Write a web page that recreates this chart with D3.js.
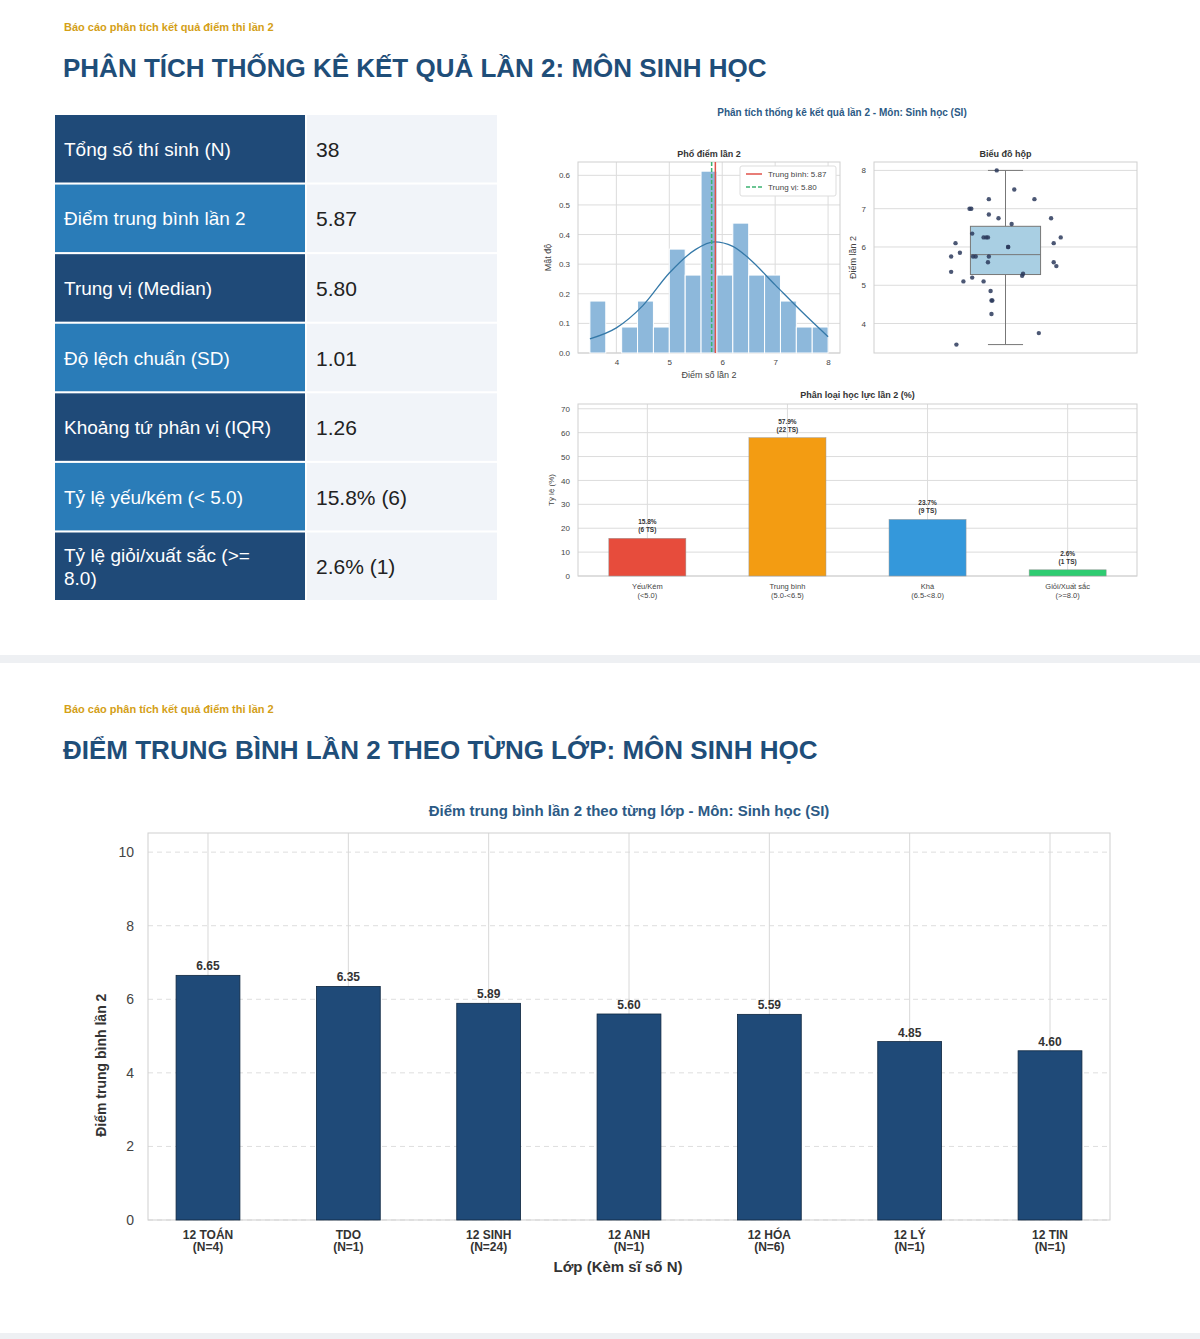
<!DOCTYPE html>
<html><head><meta charset="utf-8">
<script src="https://cdn.jsdelivr.net/npm/d3@7"></script>
<style>
body{margin:0;background:#fff;font-family:"Liberation Sans",Arial,sans-serif;}
svg text{font-family:"Liberation Sans",Arial,sans-serif;}
</style></head><body>
<svg id="c" width="1200" height="1339"></svg>
<script>
// ---- data ----
const statLabels = ["Tổng số thí sinh (N)", "Điểm trung bình lần 2", "Trung vị (Median)", "Độ lệch chuẩn (SD)", "Khoảng tứ phân vị (IQR)", "Tỷ lệ yếu/kém (< 5.0)", "Tỷ lệ giỏi/xuất sắc (>= 8.0)"];
const statValues = ["38", "5.87", "5.80", "1.01", "1.26", "15.8% (6)", "2.6% (1)"];
const histEdges = [3.5,3.8,4.1,4.4,4.7,5.0,5.3,5.6,5.9,6.2,6.5,6.8,7.1,7.4,7.7,8.0];
const histCounts = [2,0,1,2,1,4,3,7,3,5,3,3,2,1,1];
const kdeX = [3.5,4.0,4.5,5.0,5.5,5.85,6.2,6.5,7.0,7.5,8.0];
const kdeY = [0.048,0.085,0.16,0.27,0.35,0.375,0.36,0.32,0.23,0.14,0.055];
const meanScore = 5.87, medianScore = 5.80;
const boxStats = {min:3.45, q1:5.28, med:5.8, q3:6.54, max:8.0};
const stripY = [8.0,7.5,7.25,7.25,7.0,7.0,6.85,6.75,6.75,6.6,6.35,6.25,6.25,6.25,6.25,6.1,6.1,6.0,6.0,5.85,5.75,5.75,5.75,5.75,5.6,5.6,5.5,5.35,5.3,5.25,5.2,5.1,5.1,4.85,4.6,4.6,4.25,3.75,3.45];
const stripJitter = [-0.1,0.1,-0.19,0.33,-0.41,-0.39,-0.19,-0.08,0.52,0.07,-0.38,-0.25,-0.22,-0.2,0.63,-0.57,0.55,0.03,0.03,-0.52,-0.62,-0.37,-0.34,-0.19,-0.2,0.55,0.58,-0.62,0.2,0.19,-0.38,-0.48,-0.25,-0.17,-0.16,-0.15,-0.16,0.38,-0.56];
const levelCats = ["Yếu/Kém|(<5.0)", "Trung bình|(5.0-<6.5)", "Khá|(6.5-<8.0)", "Giỏi/Xuất sắc|(>=8.0)"];
const levelPct = [15.8, 57.9, 23.7, 2.6];
const levelN = [6, 22, 9, 1];
const levelColors = ["#e74c3c", "#f39c12", "#3498db", "#2ecc71"];
const classNames = ["12 TOÁN", "TDO", "12 SINH", "12 ANH", "12 HÓA", "12 LÝ", "12 TIN"];
const classN = [4, 1, 24, 1, 6, 1, 1];
const classMean = [6.65, 6.35, 5.89, 5.60, 5.59, 4.85, 4.60];

const svg = d3.select("#c");
const navy = "#1f4e79";
const grid = "#dcdcdc";

// section separator
svg.append("rect").attr("x",0).attr("y",655).attr("width",1200).attr("height",8).attr("fill","#eef0f3");
svg.append("rect").attr("x",0).attr("y",1333).attr("width",1200).attr("height",6).attr("fill","#eef0f3");

function header(y, title){
  svg.append("text").attr("x",64).attr("y",y).attr("font-size",11).attr("fill","#d4a017").attr("font-weight","bold").text("Báo cáo phân tích kết quả điểm thi lần 2");
  svg.append("text").attr("x",63).attr("y",y+46).attr("font-size",26).attr("font-weight","bold").attr("fill",navy).text(title);
}
header(31, "PHÂN TÍCH THỐNG KÊ KẾT QUẢ LẦN 2: MÔN SINH HỌC");
header(713, "ĐIỂM TRUNG BÌNH LẦN 2 THEO TỪNG LỚP: MÔN SINH HỌC");

// ---- stats table ----
const rowY = d3.scaleBand().domain(d3.range(statLabels.length)).range([115,600]).paddingInner(0.03);
statLabels.forEach((l,i)=>{
  const y = rowY(i), h = rowY.bandwidth();
  svg.append("rect").attr("x",55).attr("y",y).attr("width",250).attr("height",h).attr("fill", i%2 ? "#2a7cb8" : "#1f4a78");
  svg.append("rect").attr("x",307).attr("y",y).attr("width",190).attr("height",h).attr("fill","#f1f4f9");
  if(i===6){
    svg.append("text").attr("x",64).attr("y",y+h/2-4).attr("font-size",19).attr("fill","#fff").text("Tỷ lệ giỏi/xuất sắc (>=");
    svg.append("text").attr("x",64).attr("y",y+h/2+19).attr("font-size",19).attr("fill","#fff").text("8.0)");
  } else {
    svg.append("text").attr("x",64).attr("y",y+h/2+7).attr("font-size",19).attr("fill","#fff").text(l);
  }
  svg.append("text").attr("x",316).attr("y",y+h/2+8).attr("font-size",21).attr("fill","#222").text(statValues[i]);
});

svg.append("text").attr("x",842).attr("y",116).attr("text-anchor","middle").attr("font-size",10).attr("font-weight","bold").attr("fill","#2c5a85").text("Phân tích thống kê kết quả lần 2 - Môn: Sinh học (SI)");

function frame(g,w,h){
  g.append("rect").attr("width",w).attr("height",h).attr("fill","none").attr("stroke","#cfcfcf");
}
function styleAxis(a){ a.select(".domain").remove(); a.selectAll("line").remove(); a.selectAll("text").attr("fill","#444"); }

// ---- histogram ----
{
  const x0=578,y0=162,w=262,h=191;
  const g = svg.append("g").attr("transform",`translate(${x0},${y0})`);
  const x = d3.scaleLinear().domain([3.275,8.225]).range([0,w]);
  const y = d3.scaleLinear().domain([0,0.645]).range([h,0]);
  const dens = histCounts.map(c=>c/(d3.sum(histCounts)*0.3));
  x.ticks(5).forEach(t=>g.append("line").attr("x1",x(t)).attr("x2",x(t)).attr("y1",0).attr("y2",h).attr("stroke",grid));
  y.ticks(6).forEach(t=>g.append("line").attr("x1",0).attr("x2",w).attr("y1",y(t)).attr("y2",y(t)).attr("stroke",grid));
  frame(g,w,h);
  g.selectAll(".hb").data(histCounts).join("rect")
    .attr("x",(d,i)=>x(histEdges[i])).attr("width",(d,i)=>x(histEdges[i+1])-x(histEdges[i]))
    .attr("y",(d,i)=>y(dens[i])).attr("height",(d,i)=>h-y(dens[i]))
    .attr("fill","#8db8db").attr("stroke","#fff").attr("stroke-width",1);
  g.append("path").datum(kdeX.map((v,i)=>[v,kdeY[i]])).attr("fill","none").attr("stroke","#3579a8").attr("stroke-width",1.3)
    .attr("d",d3.line().x(d=>x(d[0])).y(d=>y(d[1])).curve(d3.curveMonotoneX));
  g.append("line").attr("x1",x(meanScore)).attr("x2",x(meanScore)).attr("y1",0).attr("y2",h).attr("stroke","#e0524a").attr("stroke-width",1.5);
  g.append("line").attr("x1",x(medianScore)).attr("x2",x(medianScore)).attr("y1",0).attr("y2",h).attr("stroke","#3cb371").attr("stroke-width",1.5).attr("stroke-dasharray","4,2");
  const lg = g.append("g").attr("transform",`translate(${w-100},4)`);
  lg.append("rect").attr("width",96).attr("height",30).attr("fill","#fff").attr("stroke","#ddd").attr("rx",2);
  lg.append("line").attr("x1",6).attr("x2",22).attr("y1",8).attr("y2",8).attr("stroke","#e0524a").attr("stroke-width",1.5);
  lg.append("line").attr("x1",6).attr("x2",22).attr("y1",21).attr("y2",21).attr("stroke","#3cb371").attr("stroke-width",1.5).attr("stroke-dasharray","4,2");
  lg.append("text").attr("x",28).attr("y",11).attr("font-size",8).attr("fill","#444").text("Trung bình: 5.87");
  lg.append("text").attr("x",28).attr("y",24).attr("font-size",8).attr("fill","#444").text("Trung vị: 5.80");
  styleAxis(g.append("g").attr("transform",`translate(0,${h})`).call(d3.axisBottom(x).ticks(5).tickSize(0).tickPadding(6)).attr("font-size",8));
  styleAxis(g.append("g").call(d3.axisLeft(y).ticks(6).tickFormat(d3.format(".1f")).tickSize(0).tickPadding(8)).attr("font-size",8));
  g.append("text").attr("x",w/2).attr("y",-5).attr("text-anchor","middle").attr("font-size",9).attr("font-weight","bold").attr("fill","#333").text("Phổ điểm lần 2");
  g.append("text").attr("x",w/2).attr("y",h+25).attr("text-anchor","middle").attr("font-size",9).attr("fill","#444").text("Điểm số lần 2");
  g.append("text").attr("transform",`translate(-27,${h/2}) rotate(-90)`).attr("text-anchor","middle").attr("font-size",9).attr("fill","#444").text("Mật độ");
}

// ---- boxplot ----
{
  const x0=874,y0=162,w=263,h=191;
  const g = svg.append("g").attr("transform",`translate(${x0},${y0})`);
  const x = d3.scaleLinear().domain([-1.5,1.5]).range([0,w]);
  const y = d3.scaleLinear().domain([3.23,8.22]).range([h,0]);
  y.ticks(5).forEach(t=>g.append("line").attr("x1",0).attr("x2",w).attr("y1",y(t)).attr("y2",y(t)).attr("stroke",grid));
  frame(g,w,h);
  const bw = 0.8;
  g.append("line").attr("x1",x(0)).attr("x2",x(0)).attr("y1",y(boxStats.max)).attr("y2",y(boxStats.q3)).attr("stroke","#777");
  g.append("line").attr("x1",x(0)).attr("x2",x(0)).attr("y1",y(boxStats.q1)).attr("y2",y(boxStats.min)).attr("stroke","#777");
  [boxStats.max,boxStats.min].forEach(v=>g.append("line").attr("x1",x(-bw/4)).attr("x2",x(bw/4)).attr("y1",y(v)).attr("y2",y(v)).attr("stroke","#777"));
  g.append("rect").attr("x",x(-bw/2)).attr("width",x(bw/2)-x(-bw/2)).attr("y",y(boxStats.q3)).attr("height",y(boxStats.q1)-y(boxStats.q3)).attr("fill","#a9cfe3").attr("stroke","#777");
  g.append("line").attr("x1",x(-bw/2)).attr("x2",x(bw/2)).attr("y1",y(boxStats.med)).attr("y2",y(boxStats.med)).attr("stroke","#777");
  g.selectAll(".pt").data(stripY).join("circle").attr("cx",(d,i)=>x(stripJitter[i])).attr("cy",d=>y(d)).attr("r",2.2).attr("fill","#2b3a5c").attr("opacity",0.85);
  styleAxis(g.append("g").call(d3.axisLeft(y).ticks(5).tickSize(0).tickPadding(8)).attr("font-size",8));
  g.append("text").attr("x",w/2).attr("y",-5).attr("text-anchor","middle").attr("font-size",9).attr("font-weight","bold").attr("fill","#333").text("Biểu đồ hộp");
  g.append("text").attr("transform",`translate(-18,${h/2}) rotate(-90)`).attr("text-anchor","middle").attr("font-size",9).attr("fill","#444").text("Điểm lần 2");
}

// ---- level bars ----
{
  const x0=578,y0=404,w=559,h=172;
  const g = svg.append("g").attr("transform",`translate(${x0},${y0})`);
  const x = d3.scaleBand().domain(levelCats).range([0,w]).paddingInner(0.45).paddingOuter(0.22);
  const y = d3.scaleLinear().domain([0,72]).range([h,0]);
  y.ticks(7).forEach(t=>g.append("line").attr("x1",0).attr("x2",w).attr("y1",y(t)).attr("y2",y(t)).attr("stroke",grid));
  levelCats.forEach(c=>g.append("line").attr("x1",x(c)+x.bandwidth()/2).attr("x2",x(c)+x.bandwidth()/2).attr("y1",0).attr("y2",h).attr("stroke",grid));
  frame(g,w,h);
  g.selectAll(".lb").data(levelPct).join("rect").attr("x",(d,i)=>x(levelCats[i])).attr("width",x.bandwidth())
    .attr("y",d=>y(d)).attr("height",d=>h-y(d)).attr("fill",(d,i)=>levelColors[i]).attr("stroke","#999").attr("stroke-width",0.5);
  levelPct.forEach((d,i)=>{
    const cx = x(levelCats[i])+x.bandwidth()/2;
    g.append("text").attr("x",cx).attr("y",y(d)-14).attr("text-anchor","middle").attr("font-size",6.5).attr("font-weight","bold").attr("fill","#333").text(d.toFixed(1)+"%");
    g.append("text").attr("x",cx).attr("y",y(d)-6).attr("text-anchor","middle").attr("font-size",6.5).attr("font-weight","bold").attr("fill","#333").text(`(${levelN[i]} TS)`);
    const parts = levelCats[i].split("|");
    parts.forEach((p,k)=>g.append("text").attr("x",cx).attr("y",h+13+k*9).attr("text-anchor","middle").attr("font-size",7.5).attr("fill","#444").text(p));
  });
  styleAxis(g.append("g").call(d3.axisLeft(y).ticks(7).tickSize(0).tickPadding(8)).attr("font-size",8));
  g.append("text").attr("x",w/2).attr("y",-6).attr("text-anchor","middle").attr("font-size",9).attr("font-weight","bold").attr("fill","#333").text("Phân loại học lực lần 2 (%)");
  g.append("text").attr("transform",`translate(-24,${h/2}) rotate(-90)`).attr("text-anchor","middle").attr("font-size",8).attr("fill","#444").text("Tỷ lệ (%)");
}

// ---- class means ----
{
  const x0=148,y0=833,w=962,h=387;
  const g = svg.append("g").attr("transform",`translate(${x0},${y0})`);
  const x = d3.scaleBand().domain(classNames).range([0,w]).paddingInner(0.545).paddingOuter(0.2);
  const y = d3.scaleLinear().domain([0,10.52]).range([h,0]);
  y.ticks(5).forEach(t=>g.append("line").attr("x1",0).attr("x2",w).attr("y1",y(t)).attr("y2",y(t)).attr("stroke","#dedede").attr("stroke-dasharray","5,4"));
  classNames.forEach(c=>g.append("line").attr("x1",x(c)+x.bandwidth()/2).attr("x2",x(c)+x.bandwidth()/2).attr("y1",0).attr("y2",h).attr("stroke","#d8d8d8"));
  frame(g,w,h);
  g.selectAll(".cb").data(classMean).join("rect").attr("x",(d,i)=>x(classNames[i])).attr("width",x.bandwidth())
    .attr("y",d=>y(d)).attr("height",d=>h-y(d)).attr("fill","#1f4a78").attr("stroke","#0f2740").attr("stroke-width",0.8);
  classMean.forEach((d,i)=>{
    const cx = x(classNames[i])+x.bandwidth()/2;
    g.append("text").attr("x",cx).attr("y",y(d)-5).attr("text-anchor","middle").attr("font-size",12).attr("font-weight","bold").attr("fill","#333").text(d.toFixed(2));
    g.append("text").attr("x",cx).attr("y",h+19).attr("text-anchor","middle").attr("font-size",12).attr("font-weight","bold").attr("fill","#333").text(classNames[i]);
    g.append("text").attr("x",cx).attr("y",h+31).attr("text-anchor","middle").attr("font-size",12).attr("font-weight","bold").attr("fill","#333").text(`(N=${classN[i]})`);
  });
  styleAxis(g.append("g").call(d3.axisLeft(y).ticks(5).tickSize(0).tickPadding(14)).attr("font-size",14));
  g.append("text").attr("x",w/2).attr("y",-17).attr("text-anchor","middle").attr("font-size",15).attr("font-weight","bold").attr("fill","#2c5a85").text("Điểm trung bình lần 2 theo từng lớp - Môn: Sinh học (SI)");
  g.append("text").attr("x",w/2-11).attr("y",h+52).attr("text-anchor","middle").attr("font-size",15).attr("font-weight","bold").attr("fill","#333").text("Lớp (Kèm sĩ số N)");
  g.append("text").attr("transform",`translate(-42,${h*0.6}) rotate(-90)`).attr("text-anchor","middle").attr("font-size",14).attr("font-weight","bold").attr("fill","#333").text("Điểm trung bình lần 2");
}
</script></body></html>
